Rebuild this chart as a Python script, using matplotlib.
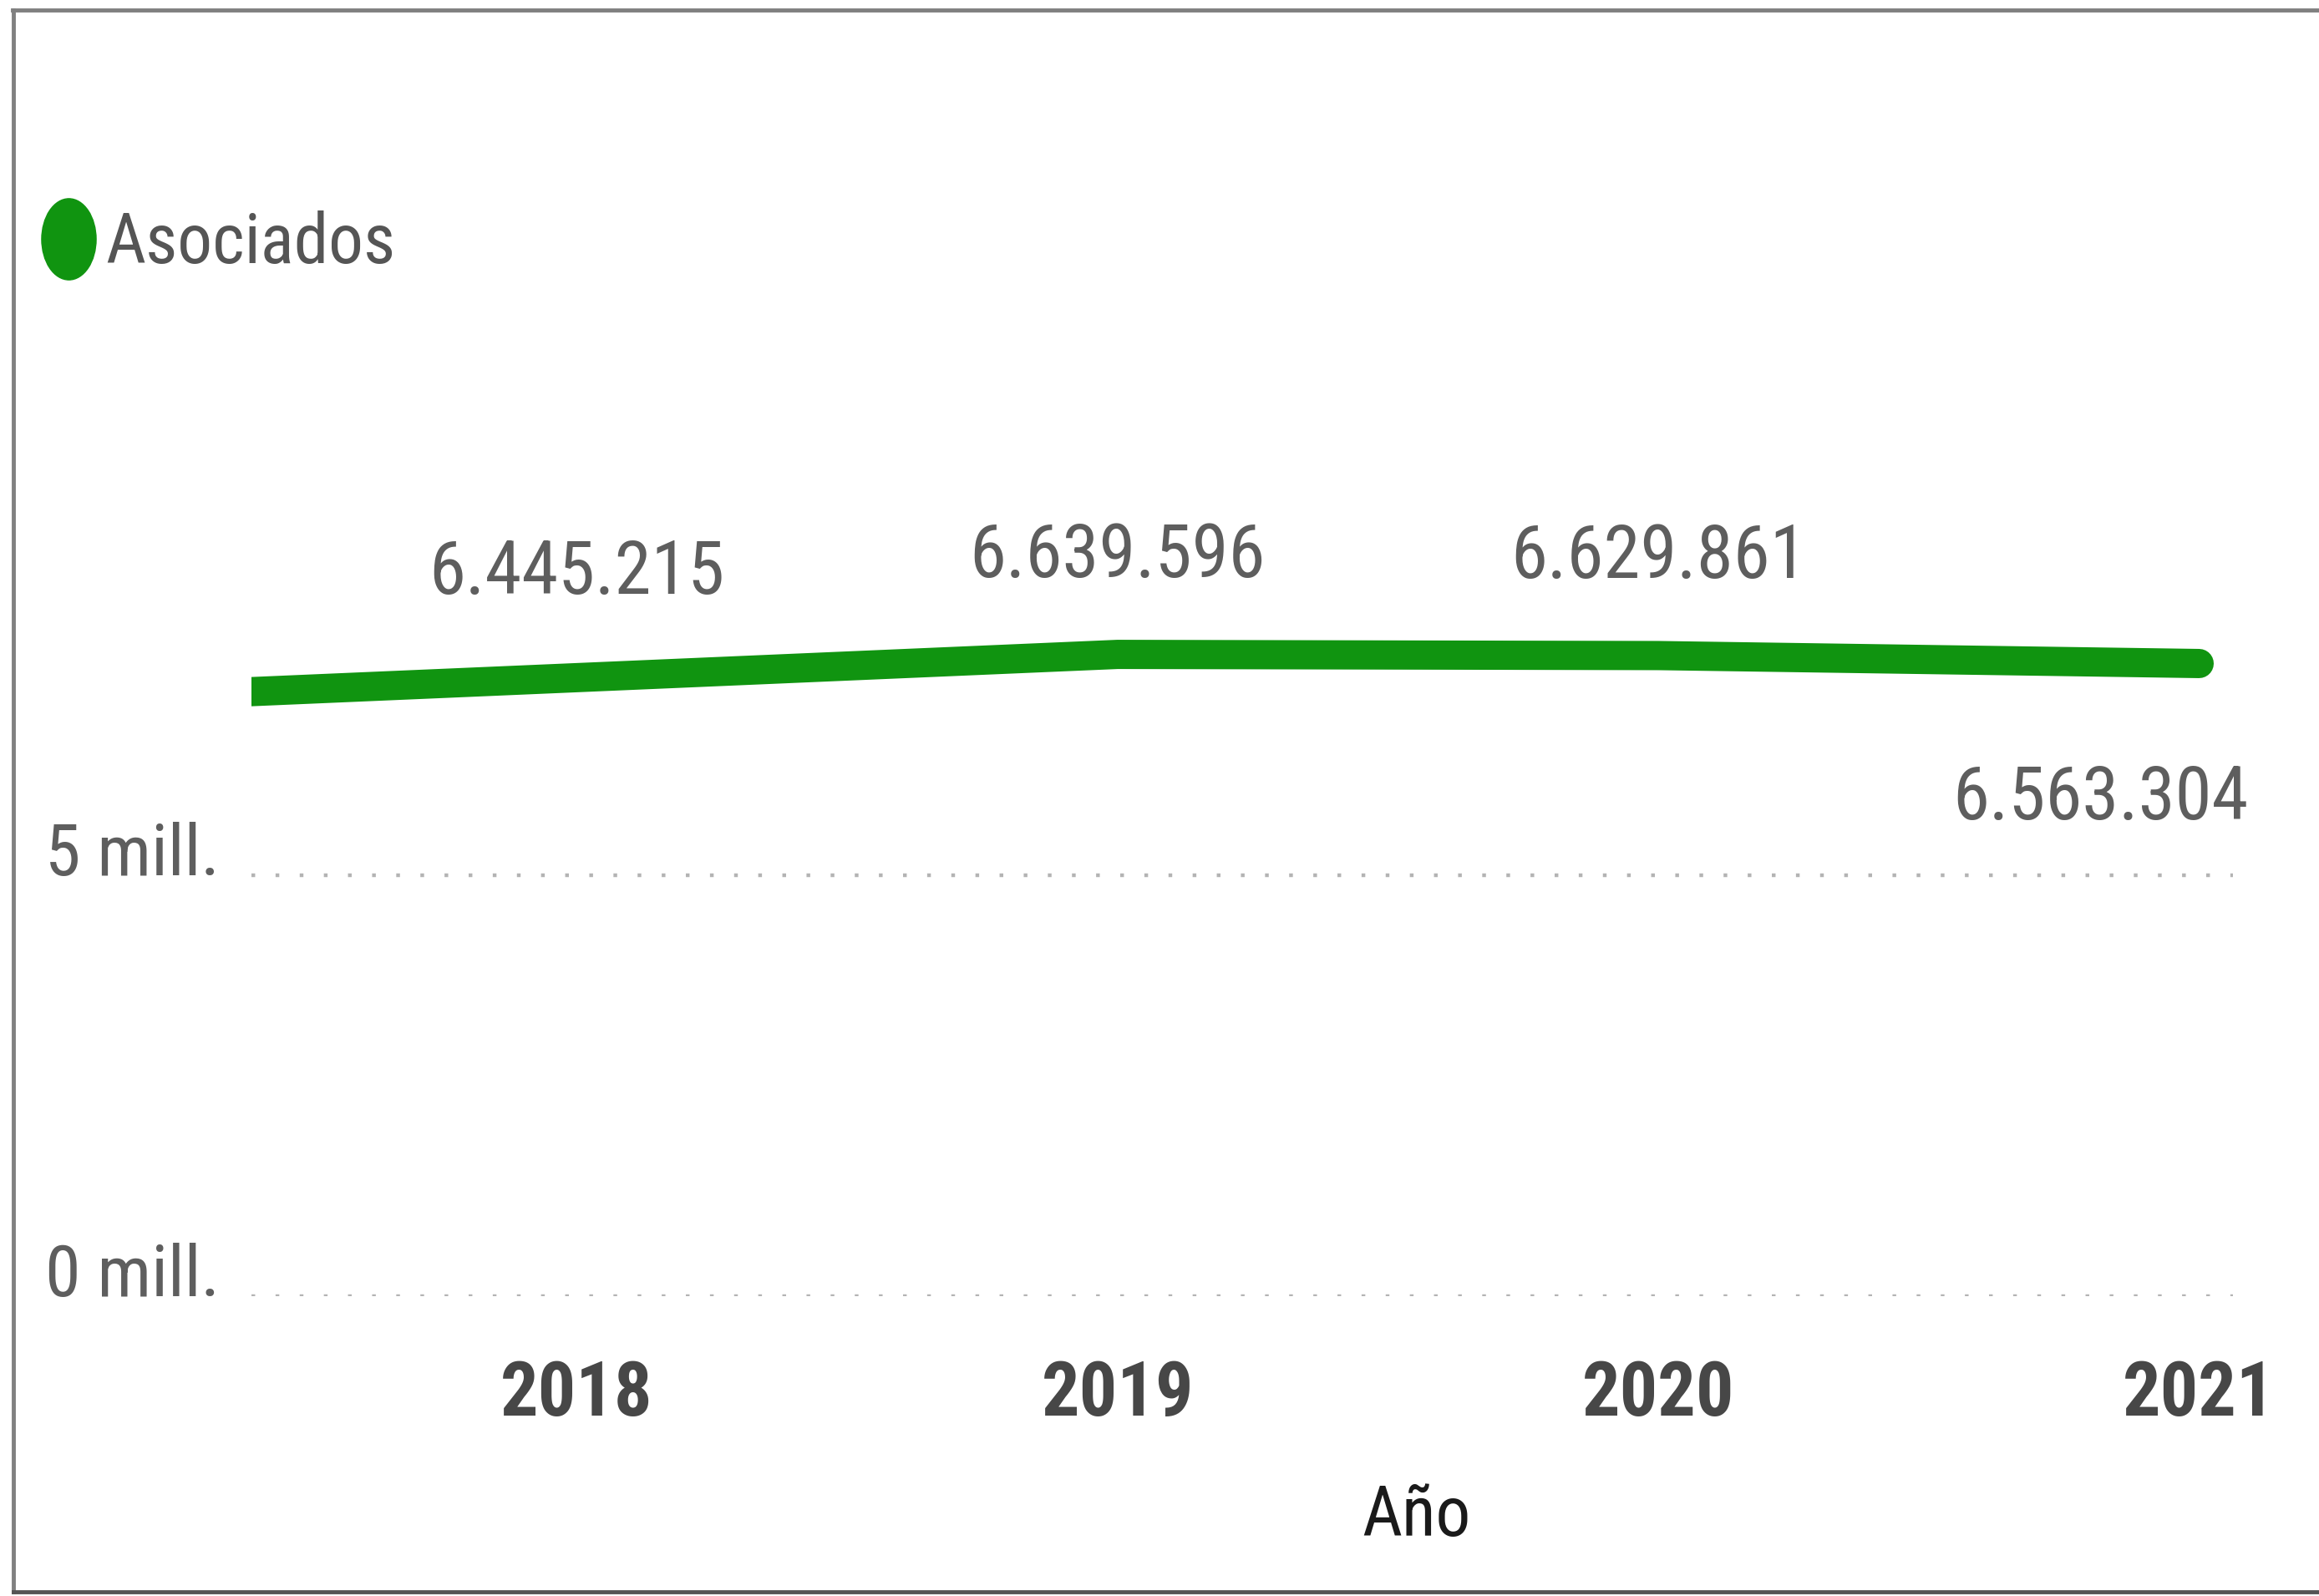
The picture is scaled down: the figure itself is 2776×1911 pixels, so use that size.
import matplotlib
matplotlib.use("Agg")
import matplotlib.pyplot as plt
from matplotlib.lines import Line2D
from matplotlib.path import Path
from matplotlib.transforms import Affine2D

# data
years = ["2018", "2019", "2020", "2021"]
asociados = [6445215, 6639596, 6629861, 6563304]
ytick_vals = [0, 5_000_000]
ytick_labels = ["0 mill.", "5 mill."]
series_name = "Asociados"
x_title = "Año"

plt.rcParams["font.family"] = ["Roboto Condensed", "Liberation Sans", "DejaVu Sans"]

green = "#109410"
grey_txt = "#5e5e5e"

fig = plt.figure(figsize=(27.76, 19.11), dpi=100)

# main axes: gridlines, ticks, labels
ax = fig.add_axes([0.1084, 0.1881, 0.8546, 0.5339])
ax.set_xlim(-0.6016, 3.063)
ax.set_ylim(0, 10.14e6)
for s in ax.spines.values():
    s.set_visible(False)

ax.set_xticks(range(len(years)), years)
ax.set_yticks(ytick_vals, ytick_labels)
ax.tick_params(axis="x", length=0, pad=54, labelsize=65, labelcolor="#474747")
ax.tick_params(axis="y", length=0, pad=178, labelsize=62, labelcolor=grey_txt)
for lbl in ax.get_xticklabels():
    lbl.set_fontweight("bold")
for lbl in ax.get_yticklabels():
    lbl.set_ha("left")
    lbl.set_va("baseline")
ax.yaxis.grid(True, color="#b4b4b4", lw=3.2, linestyle=(0, (1, 5.5)))
ax.set_axisbelow(True)

ax.set_xlabel(x_title, fontsize=60, color="#1a1a1a")
ax.xaxis.label.set_va("center")
ax.xaxis.set_label_coords(0.588, -0.259)

# data labels
for i, v in enumerate(asociados):
    txt = f"{v:,}".replace(",", ".")
    if i < len(asociados) - 1:
        off = (0, 156)
    else:
        off = (-85, -47)
    ax.annotate(txt, (i, v), xytext=off, textcoords="offset points",
                ha="center", va="center", fontsize=64, color=grey_txt)

# the line sits on its own y scale (twin axes); like the visual, the first
# segment is carried on to the left edge of the plot area
tax = ax.twinx()
tax.set_ylim(1.278e6, 8.401e6)
tax.axis("off")
xs = list(range(len(asociados)))
x_edge = ax.get_xlim()[0]
slope = asociados[1] - asociados[0]
tax.plot([x_edge] + xs, [asociados[0] + slope * x_edge] + asociados,
         color=green, lw=25.2, solid_capstyle="round", solid_joinstyle="round")

# legend
ellipse = Path.unit_circle().transformed(Affine2D().scale(0.67, 1.0))
handle = Line2D([], [], ls="none", marker=ellipse, ms=70, color=green)
fig.legend(handles=[handle], labels=[series_name], loc="center left",
           bbox_to_anchor=(0.0151, 0.847), frameon=False, fontsize=60,
           labelcolor="#555555", handlelength=0.95, handletextpad=0.06,
           borderpad=0, borderaxespad=0)

# frame around the visual
fig.add_artist(Line2D([15 / 2776, 1], [0.9937, 0.9937], color="#808080", lw=3.5))
fig.add_artist(Line2D([0.0058, 0.0058], [0.0026, 0.9937], color="#808080", lw=3.5))
fig.add_artist(Line2D([0.0058, 1], [0.0026, 0.0026], color="#555555", lw=3.5))

fig.savefig("out.png", dpi=100)
